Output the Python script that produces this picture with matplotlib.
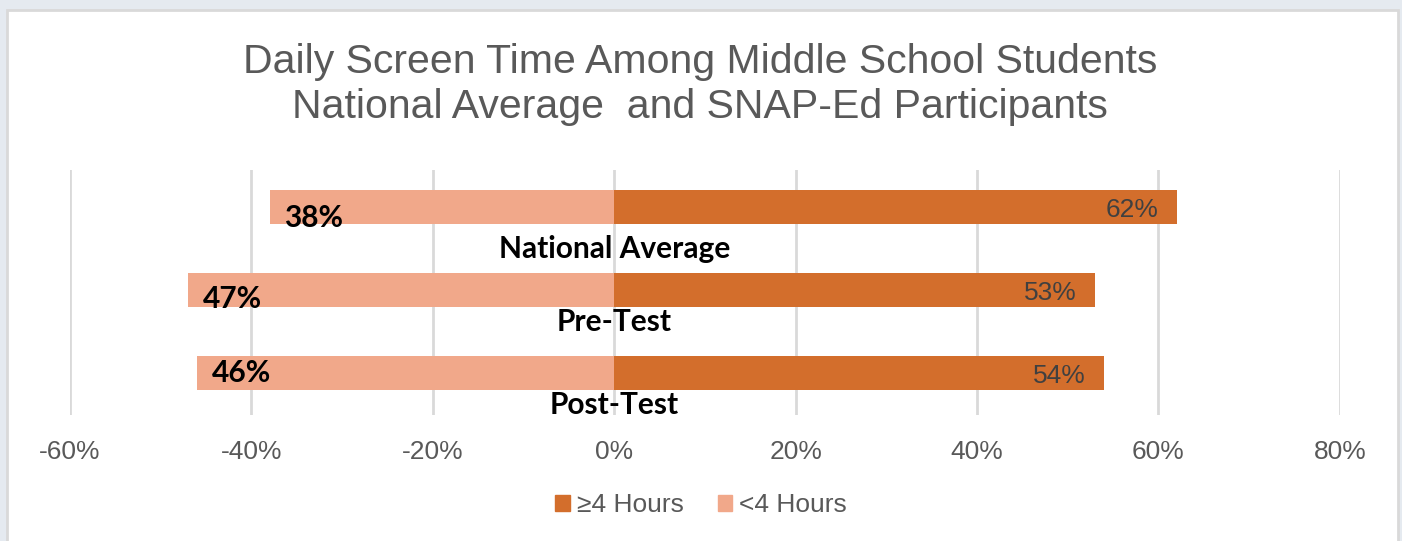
import matplotlib.pyplot as plt
from matplotlib.patches import Patch, Rectangle
from matplotlib.ticker import FuncFormatter

# data (percent of students)
categories = ["National Average", "Pre-Test", "Post-Test"]
over_4h = [62, 53, 54]     # >=4 Hours
under_4h = [38, 47, 46]    # <4 Hours
x_ticks = [-60, -40, -20, 0, 20, 40, 60, 80]

dark = "#D36E2C"
light = "#F1A88A"
grey_txt = "#595959"

plt.rcParams['font.family'] = ['Liberation Sans', 'DejaVu Sans']

fig = plt.figure(figsize=(14.02, 5.41), dpi=100)
fig.patch.set_facecolor("#E5EAF0")
fig.patches.append(Rectangle((0.005, -0.02), 0.992, 1.0015, transform=fig.transFigure,
                             facecolor="white", edgecolor="#D9D9D9", linewidth=2, zorder=-10))

ax = fig.add_axes([0.0499, 0.2329, 0.9058, 0.4529])
ax.set_facecolor("none")

ypos = list(range(len(categories)))
ax.barh(ypos, over_4h, height=0.41, color=dark, zorder=2)
ax.barh(ypos, [-v for v in under_4h], height=0.41, color=light, zorder=2)

# value labels
lbl_dy = [0.13, 0.1, 0.0]
for i in ypos:
    ax.text(over_4h[i] - 2.0, i + 0.03, f"{over_4h[i]}%", ha='right', va='center',
            fontsize=19, color="#404040", zorder=3)
    ax.text(-under_4h[i] + 1.6, i + lbl_dy[i], f"{under_4h[i]}%", ha='left', va='center',
            fontsize=21.5, fontweight='bold', color="black", family=['Lato', 'DejaVu Sans'], zorder=3)

# category labels under each bar
cat_dy = [0.5, 0.38, 0.38]
for i, name in enumerate(categories):
    ax.text(0, i + cat_dy[i], name, ha='center', va='center', fontsize=21.5,
            fontweight='bold', color="black", family=['Lato', 'DejaVu Sans'], zorder=3)

ax.set_xlim(-60, 80)
ax.set_ylim(2.5, -0.45)
ax.set_xticks(x_ticks)
ax.xaxis.set_major_formatter(FuncFormatter(lambda v, p: f"{v:.0f}%"))
ax.tick_params(axis='x', length=0, pad=18, labelsize=19, labelcolor=grey_txt)
ax.set_yticks([])
ax.grid(axis='x', color="#D9D9D9", linewidth=2, zorder=0)
for s in ax.spines.values():
    s.set_visible(False)

fig.text(0.4993, 0.886, "Daily Screen Time Among Middle School Students", ha='center',
         va='center', fontsize=29.5, color=grey_txt)
fig.text(0.4993, 0.803, "National Average  and SNAP-Ed Participants", ha='center',
         va='center', fontsize=29.5, color=grey_txt)

handles = [Patch(color=dark, label="≥4 Hours"), Patch(color=light, label="<4 Hours")]
fig.legend(handles=handles, loc='center', bbox_to_anchor=(0.5, 0.0665), ncol=2, frameon=False,
           fontsize=19, labelcolor=grey_txt, handlelength=0.55, handleheight=0.55,
           handletextpad=0.25, columnspacing=1.3)

fig.savefig("out.png", dpi=100, facecolor=fig.get_facecolor())
